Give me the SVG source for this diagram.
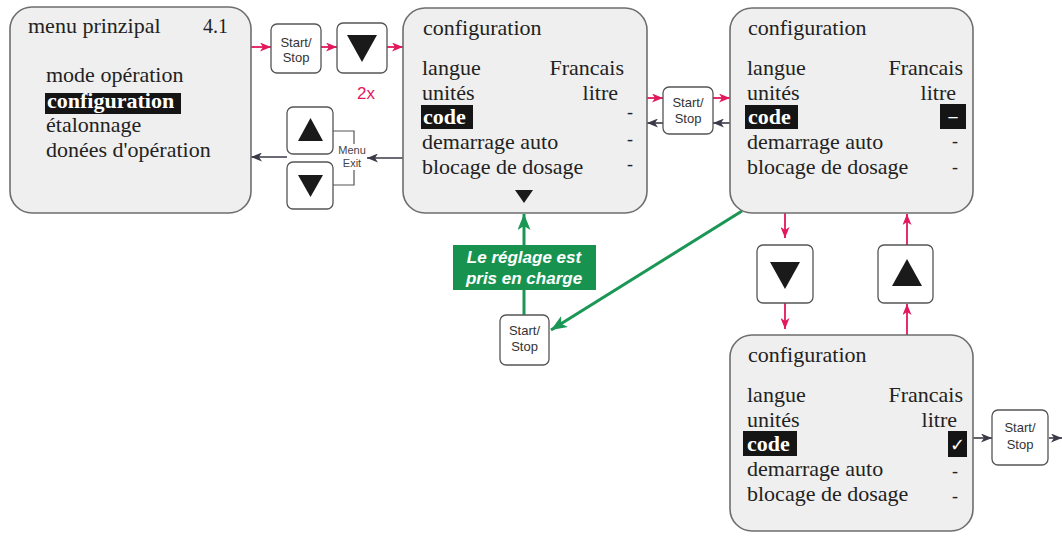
<svg xmlns="http://www.w3.org/2000/svg" width="1062" height="540" viewBox="0 0 1062 540">
<style>
.box{fill:#efefef;stroke:#6e6e6e;stroke-width:1.6}
.btn{fill:#ffffff;stroke:#555555;stroke-width:1.3}
.t{font-family:"Liberation Serif","Times New Roman",serif;font-size:22px;fill:#222222}
.tb{font-family:"Liberation Serif","Times New Roman",serif;font-size:22px;font-weight:bold;fill:#ffffff}
.dash{font-family:"Liberation Serif","Times New Roman",serif;font-size:18px;fill:#222222;text-anchor:middle}
.r{text-anchor:end}
.hl{fill:#151515}
.ss{font-family:"Liberation Sans",Arial,sans-serif;font-size:13px;fill:#333333;text-anchor:middle}
.tri{fill:#1a1a1a}
.pk{stroke:#e3175a;stroke-width:1.8;fill:none}
.dk{stroke:#3a3a48;stroke-width:1.6;fill:none}
.gr{stroke:#1a9655;stroke-width:3;fill:none}
</style>
<defs>
<marker id="mpk" markerUnits="userSpaceOnUse" markerWidth="11" markerHeight="9" refX="11" refY="4.5" orient="auto"><path d="M0,0 L11,4.5 L0,9 L3,4.5 z" fill="#e3175a"/></marker>
<marker id="mdk" markerUnits="userSpaceOnUse" markerWidth="11" markerHeight="9" refX="11" refY="4.5" orient="auto"><path d="M0,0 L11,4.5 L0,9 L3,4.5 z" fill="#3a3a48"/></marker>
<marker id="mgr" markerUnits="userSpaceOnUse" markerWidth="16" markerHeight="13" refX="16" refY="6.5" orient="auto"><path d="M0,0 L16,6.5 L0,13 L4,6.5 z" fill="#1a9655"/></marker>
</defs>
<rect width="1062" height="540" fill="#ffffff"/>

<g id="connectors">
<path class="pk" d="M251,47 L271,47" marker-end="url(#mpk)"/>
<path class="pk" d="M321,47 L337,47" marker-end="url(#mpk)"/>
<path class="pk" d="M387,47 L403,47" marker-end="url(#mpk)"/>
<path class="dk" d="M403,158 L367,158" marker-end="url(#mdk)"/>
<path class="dk" d="M287,157 L251,157" marker-end="url(#mdk)"/>
<path d="M333,131 H354 V144 M354,170 V185 H333" fill="none" stroke="#555555" stroke-width="1.2"/>
<path class="pk" d="M647,98 L663,98" marker-end="url(#mpk)"/>
<path class="pk" d="M713,98 L730,98" marker-end="url(#mpk)"/>
<path class="dk" d="M730,123 L713,123" marker-end="url(#mdk)"/>
<path class="dk" d="M663,123 L647,123" marker-end="url(#mdk)"/>
<path class="pk" d="M785,213 L785,238" marker-end="url(#mpk)"/>
<path class="pk" d="M785,303 L785,329" marker-end="url(#mpk)"/>
<path class="pk" d="M907,245 L907,214" marker-end="url(#mpk)"/>
<path class="pk" d="M907,335 L907,304" marker-end="url(#mpk)"/>
<path class="gr" d="M742,211 L551,330" marker-end="url(#mgr)"/>
<path class="gr" d="M524,315 L524,214" marker-end="url(#mgr)"/>
<path class="dk" d="M967,438 L992,438" marker-end="url(#mdk)"/>
<path class="dk" d="M1049,438 L1062,438" marker-end="url(#mdk)"/>
</g>

<g id="menu-prinzipal">
<rect class="box" x="10" y="7" width="241" height="206" rx="22"/>
<text class="t" x="28" y="33">menu prinzipal</text>
<text class="t" x="203" y="33" style="font-size:20px">4.1</text>
<text class="t" x="46" y="82">mode opération</text>
<rect class="hl" x="45" y="93" width="136" height="21"/>
<text class="tb" x="47" y="108">configuration</text>
<text class="t" x="46" y="132">étalonnage</text>
<text class="t" x="46" y="157">donées d'opération</text>
</g>

<g id="btn-startstop-1">
<rect class="btn" x="271" y="24" width="50" height="49" rx="6"/>
<text class="ss" x="296" y="47">Start/</text>
<text class="ss" x="296" y="62">Stop</text>
</g>

<g id="btn-down-1">
<rect class="btn" x="337" y="23" width="50" height="50" rx="6"/>
<polygon class="tri" points="347,35 377,35 362,62"/>
<text x="366" y="99" style="font-family:'Liberation Sans',Arial,sans-serif;font-size:17px;fill:#e3175a;text-anchor:middle">2x</text>
</g>

<g id="btn-up-left">
<rect class="btn" x="287" y="107" width="46" height="47" rx="6"/>
<polygon class="tri" points="298,141 323,141 310.5,118"/>
</g>

<g id="btn-down-left">
<rect class="btn" x="287" y="162" width="46" height="47" rx="6"/>
<polygon class="tri" points="298,175 323,175 310.5,197"/>
</g>

<g id="menu-exit-label">
<text x="352" y="154" style="font-family:'Liberation Sans',Arial,sans-serif;font-size:11px;fill:#444444;text-anchor:middle">Menu</text>
<text x="352" y="167" style="font-family:'Liberation Sans',Arial,sans-serif;font-size:11px;fill:#444444;text-anchor:middle">Exit</text>
</g>

<g id="config-1">
<rect class="box" x="403" y="8" width="244" height="205" rx="22"/>
<text class="t" x="423" y="35">configuration</text>
<text class="t" x="422" y="75">langue</text>
<text class="t r" x="624" y="75">Francais</text>
<text class="t" x="422" y="100">unités</text>
<text class="t r" x="618" y="100">litre</text>
<rect class="hl" x="421" y="105" width="52" height="24"/>
<text class="tb" x="423" y="124">code</text>
<text class="dash" x="630" y="118">-</text>
<text class="t" x="422" y="149">demarrage auto</text>
<text class="dash" x="630" y="145">-</text>
<text class="t" x="422" y="174">blocage de dosage</text>
<text class="dash" x="630" y="170">-</text>
<polygon class="tri" points="515,190 533,190 524,203"/>
</g>

<g id="btn-startstop-2">
<rect class="btn" x="663" y="87" width="50" height="47" rx="6"/>
<text class="ss" x="688" y="107">Start/</text>
<text class="ss" x="688" y="123">Stop</text>
</g>

<g id="config-2">
<rect class="box" x="730" y="8" width="243" height="205" rx="22"/>
<text class="t" x="748" y="35">configuration</text>
<text class="t" x="747" y="75">langue</text>
<text class="t r" x="963" y="75">Francais</text>
<text class="t" x="747" y="100">unités</text>
<text class="t r" x="956" y="100">litre</text>
<rect class="hl" x="745" y="105" width="53" height="24"/>
<text class="tb" x="748" y="124">code</text>
<rect class="hl" x="940" y="104" width="26" height="25"/>
<text x="953" y="122" style="font-family:'Liberation Serif','Times New Roman',serif;font-size:18px;font-weight:bold;fill:#ffffff;text-anchor:middle">–</text>
<text class="t" x="747" y="149">demarrage auto</text>
<text class="dash" x="955" y="147">-</text>
<text class="t" x="747" y="174">blocage de dosage</text>
<text class="dash" x="955" y="173">-</text>
</g>

<g id="label-green">
<rect x="453" y="245" width="143" height="45" fill="#17934f"/>
<text x="524" y="263" style="font-family:'Liberation Sans',Arial,sans-serif;font-size:17px;font-weight:bold;font-style:italic;fill:#ffffff;text-anchor:middle">Le réglage est</text>
<text x="524" y="284" style="font-family:'Liberation Sans',Arial,sans-serif;font-size:17px;font-weight:bold;font-style:italic;fill:#ffffff;text-anchor:middle">pris en charge</text>
</g>

<g id="btn-startstop-3">
<rect class="btn" x="500" y="315" width="49" height="50" rx="6"/>
<text class="ss" x="524.5" y="335">Start/</text>
<text class="ss" x="524.5" y="351">Stop</text>
</g>

<g id="btn-down-right">
<rect class="btn" x="757" y="245" width="56" height="58" rx="6"/>
<polygon class="tri" points="770,262 800,262 785,289"/>
</g>

<g id="btn-up-right">
<rect class="btn" x="878" y="245" width="55" height="58" rx="6"/>
<polygon class="tri" points="892,286 922,286 907,259"/>
</g>

<g id="config-3">
<rect class="box" x="730" y="335" width="243" height="196" rx="22"/>
<text class="t" x="748" y="362">configuration</text>
<text class="t" x="747" y="402">langue</text>
<text class="t r" x="963" y="402">Francais</text>
<text class="t" x="747" y="427">unités</text>
<text class="t r" x="957" y="427">litre</text>
<rect class="hl" x="743" y="431" width="54" height="25"/>
<text class="tb" x="747" y="451">code</text>
<rect class="hl" x="948" y="431" width="19" height="26"/>
<text x="957.5" y="451" style="font-family:'DejaVu Sans',sans-serif;font-size:18px;font-weight:bold;fill:#ffffff;text-anchor:middle">✓</text>
<text class="t" x="747" y="476">demarrage auto</text>
<text class="dash" x="955" y="477">-</text>
<text class="t" x="747" y="501">blocage de dosage</text>
<text class="dash" x="955" y="502">-</text>
</g>

<g id="btn-startstop-4">
<rect class="btn" x="992" y="410" width="56" height="55" rx="6"/>
<text class="ss" x="1020" y="432">Start/</text>
<text class="ss" x="1020" y="449">Stop</text>
</g>
</svg>
